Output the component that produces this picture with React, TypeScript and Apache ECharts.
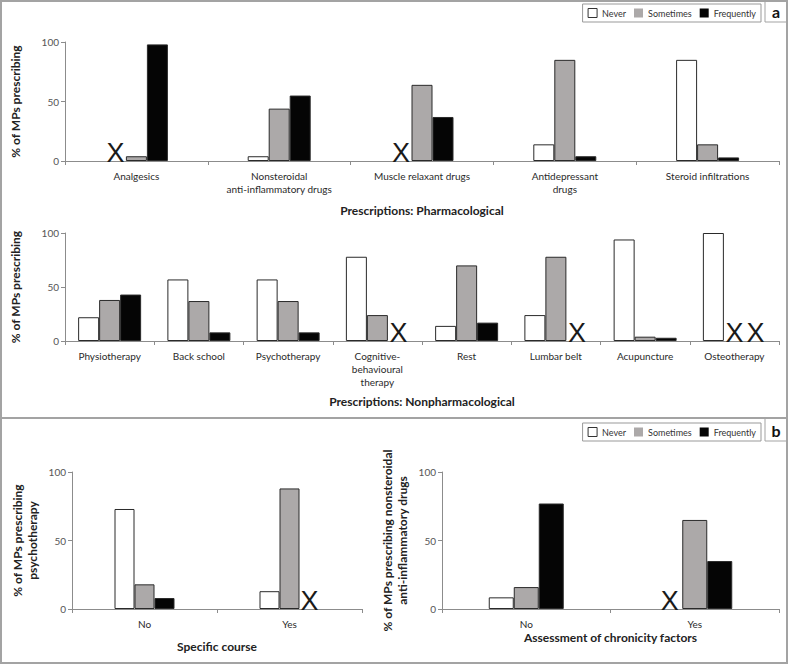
import React, { useEffect, useRef } from 'react';
import * as echarts from 'echarts';

const FONT = 'Lato, "Open Sans", sans-serif';

const SERIES_NAMES = ['Never', 'Sometimes', 'Frequently'];

const PHARM_CATS = ['Analgesics', 'Nonsteroidal\nanti-inflammatory drugs', 'Muscle relaxant drugs', 'Antidepressant\ndrugs', 'Steroid infiltrations'];
const PHARM_NEVER = [null, 4, null, 14, 85];
const PHARM_SOMETIMES = [4, 44, 64, 85, 14];
const PHARM_FREQUENTLY = [98, 55, 37, 4, 3];

const NONPHARM_CATS = ['Physiotherapy', 'Back school', 'Psychotherapy', 'Cognitive-\nbehavioural\ntherapy', 'Rest', 'Lumbar belt', 'Acupuncture', 'Osteotherapy'];
const NONPHARM_NEVER = [22, 57, 57, 78, 14, 24, 94, 100];
const NONPHARM_SOMETIMES = [38, 37, 37, 24, 70, 78, 4, null];
const NONPHARM_FREQUENTLY = [43, 8, 8, null, 17, null, 3, null];

const COURSE_CATS = ['No', 'Yes'];
const COURSE_NEVER = [73, 13];
const COURSE_SOMETIMES = [18, 88];
const COURSE_FREQUENTLY = [8, null];

const CHRON_CATS = ['No', 'Yes'];
const CHRON_NEVER = [8.5, null];
const CHRON_SOMETIMES = [16, 65];
const CHRON_FREQUENTLY = [77, 35];

const Y_TICKS = [0, 50, 100];

const COLORS = ['#ffffff', '#aca9a9', '#050505'];
const FRAME = '#a3a3a3';
const AXIS = '#8c8c8c';

function makeData(vals: (number | null)[]) {
  return vals.map((v) =>
    v === null
      ? { value: 0, itemStyle: { color: 'rgba(0,0,0,0)', borderWidth: 0 }, label: { show: true } }
      : v
  );
}

export default function App() {
  const ref = useRef<HTMLDivElement>(null);
  useEffect(() => {
    if (!ref.current) return;
    const chart = echarts.init(ref.current, undefined, { renderer: 'svg' });

    const panels = [
      { cats: PHARM_CATS, vals: [PHARM_NEVER, PHARM_SOMETIMES, PHARM_FREQUENTLY], grid: { left: 59, top: 42, width: 720, height: 119 }, barWidth: 21, yName: '% of MPs prescribing', yGap: 42, xName: 'Prescriptions: Pharmacological', xGap: 43 },
      { cats: NONPHARM_CATS, vals: [NONPHARM_NEVER, NONPHARM_SOMETIMES, NONPHARM_FREQUENTLY], grid: { left: 59, top: 233, width: 720, height: 108 }, barWidth: 21, yName: '% of MPs prescribing', yGap: 42, xName: 'Prescriptions: Nonpharmacological', xGap: 54 },
      { cats: COURSE_CATS, vals: [COURSE_NEVER, COURSE_SOMETIMES, COURSE_FREQUENTLY], grid: { left: 72, top: 472, width: 290, height: 137 }, barWidth: 20, yName: '% of MPs prescribing\npsychotherapy', yGap: 32, xName: 'Specific course', xGap: 31 },
      { cats: CHRON_CATS, vals: [CHRON_NEVER, CHRON_SOMETIMES, CHRON_FREQUENTLY], grid: { left: 442, top: 472, width: 337, height: 137 }, barWidth: 25, yName: '% of MPs prescribing nonsteroidal\nanti-inflammatory drugs', yGap: 32, xName: 'Assessment of chronicity factors', xGap: 22 },
    ];

    const grids = panels.map((p) => ({ ...p.grid, containLabel: false }));
    const xAxes = panels.map((p, i) => ({
      type: 'category',
      gridIndex: i,
      data: p.cats,
      axisLine: { lineStyle: { color: AXIS, width: 1 } },
      axisTick: { show: true, interval: 0, length: 4, alignWithLabel: false, lineStyle: { color: AXIS } },
      axisLabel: { interval: 0, fontSize: 10, lineHeight: 13, color: '#2a2a2a', fontFamily: FONT, margin: 8 },
      name: p.xName,
      nameLocation: 'middle',
      nameGap: p.xGap,
      nameTextStyle: { fontSize: 12, fontWeight: 'bold', color: '#222', fontFamily: FONT },
    }));
    const yAxes = panels.map((p, i) => ({
      type: 'value',
      gridIndex: i,
      min: Y_TICKS[0],
      max: Y_TICKS[Y_TICKS.length - 1],
      interval: Y_TICKS[1] - Y_TICKS[0],
      axisLine: { show: true, lineStyle: { color: AXIS, width: 1 } },
      axisTick: { show: true, length: 4, lineStyle: { color: AXIS } },
      splitLine: { show: false },
      axisLabel: { fontSize: 10, color: '#555', fontFamily: FONT, margin: 6 },
      name: p.yName,
      nameLocation: 'middle',
      nameRotate: 90,
      nameGap: p.yGap,
      nameTextStyle: { fontSize: 12, fontWeight: 'bold', color: '#222', fontFamily: FONT, lineHeight: 15 },
    }));

    const series: any[] = [];
    panels.forEach((p, i) => {
      p.vals.forEach((vals, s) => {
        series.push({
          type: 'bar',
          name: SERIES_NAMES[s],
          xAxisIndex: i,
          yAxisIndex: i,
          barWidth: p.barWidth,
          barGap: '0%',
          data: makeData(vals),
          itemStyle: { color: COLORS[s], borderColor: '#2a2a2a', borderWidth: 1 },
          label: {
            show: false,
            formatter: 'X',
            position: 'top',
            distance: 0,
            offset: [0, 5],
            fontSize: 27,
            color: '#1a1a1a',
            fontFamily: '"Liberation Sans", sans-serif',
            fontWeight: 'normal',
          },
        });
      });
    });

    const legendData = [
      { name: SERIES_NAMES[0], itemStyle: { color: COLORS[0], borderColor: '#333', borderWidth: 1 } },
      { name: SERIES_NAMES[1], itemStyle: { color: COLORS[1], borderWidth: 0 } },
      { name: SERIES_NAMES[2], itemStyle: { color: COLORS[2], borderWidth: 0 } },
    ];

    const legendBase = {
      right: 27,
      itemWidth: 9,
      itemHeight: 9,
      itemGap: 8,
      padding: [4, 5],
      borderColor: '#999',
      borderWidth: 1,
      icon: 'rect',
      selectedMode: false,
      textStyle: { fontSize: 9, color: '#333', fontFamily: FONT },
      data: legendData,
    };

    chart.setOption({
      animation: false,
      backgroundColor: '#fff',
      grid: grids,
      xAxis: xAxes,
      yAxis: yAxes,
      series,
      legend: [
        { ...legendBase, top: 4 },
        { ...legendBase, top: 423 },
      ],
      graphic: [
        { type: 'rect', shape: { x: 1, y: 1, width: 786, height: 662 }, style: { fill: 'none', stroke: FRAME, lineWidth: 2 } },
        { type: 'line', shape: { x1: 0, y1: 418, x2: 788, y2: 418 }, style: { stroke: FRAME, lineWidth: 2 } },
        { type: 'rect', shape: { x: 765, y: 1, width: 22, height: 21 }, style: { fill: 'none', stroke: FRAME, lineWidth: 1 } },
        { type: 'text', x: 776, y: 11, style: { text: 'a', fontSize: 16, fontWeight: 'bold', fill: '#111', fontFamily: FONT, align: 'center', verticalAlign: 'middle' } },
        { type: 'rect', shape: { x: 765, y: 418, width: 22, height: 23 }, style: { fill: 'none', stroke: FRAME, lineWidth: 1 } },
        { type: 'text', x: 776, y: 430, style: { text: 'b', fontSize: 16, fontWeight: 'bold', fill: '#111', fontFamily: FONT, align: 'center', verticalAlign: 'middle' } },
      ],
    });

    return () => chart.dispose();
  }, []);

  return <div ref={ref} style={{ position: 'absolute', left: 0, top: 0, width: 788, height: 664 }} />;
}
